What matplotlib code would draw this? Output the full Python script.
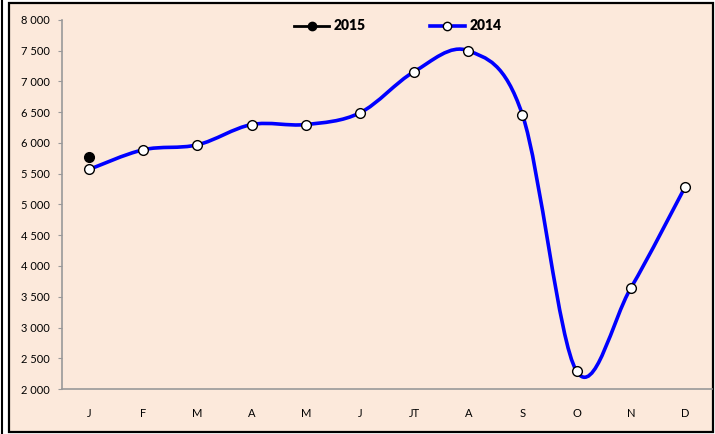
import matplotlib.pyplot as plt
import numpy as np
from matplotlib.lines import Line2D
from matplotlib.patches import PathPatch, Rectangle
from matplotlib.path import Path

months = ['J', 'F', 'M', 'A', 'M', 'J', 'JT', 'A', 'S', 'O', 'N', 'D']
values_2014 = [5570, 5890, 5970, 6300, 6300, 6490, 7160, 7500, 6460, 2290, 3640, 5280]
values_2015 = [5770]
y_ticks = [2000, 2500, 3000, 3500, 4000, 4500, 5000, 5500, 6000, 6500, 7000, 7500, 8000]

BG = '#fce9db'
BLUE = '#0000ff'
plt.rcParams['font.family'] = ['Lato', 'DejaVu Sans']


def smooth_path(xs, ys):
    # Excel-style smoothed line: cubic Bezier through each point
    pts = np.column_stack([xs, ys]).astype(float)
    verts = [pts[0]]
    codes = [Path.MOVETO]
    n = len(pts)
    for i in range(n - 1):
        p0 = pts[i - 1] if i > 0 else pts[i]
        p1, p2 = pts[i], pts[i + 1]
        p3 = pts[i + 2] if i + 2 < n else pts[i + 1]
        c1 = p1 + (p2 - p0) / 6
        c2 = p2 - (p3 - p1) / 6
        verts += [c1, c2, p2]
        codes += [Path.CURVE4] * 3
    return Path(verts, codes)


fig = plt.figure(figsize=(7.15, 4.34), dpi=100)
fig.patches.append(Rectangle((9 / 715, 2 / 434), 704 / 715, 429 / 434, transform=fig.transFigure,
                             facecolor=BG, edgecolor='black', linewidth=1.6, zorder=-5))
fig.add_artist(Line2D([1.5 / 715, 1.5 / 715], [0, 1], color='black', linewidth=1.5))

ax = fig.add_axes([62 / 715, 1 - 389 / 434, 650 / 715, 369 / 434])
ax.set_facecolor('none')
x = np.arange(len(months))

ax.add_patch(PathPatch(smooth_path(x, values_2014), facecolor='none', edgecolor=BLUE,
                       linewidth=2.6, zorder=2))
ax.plot(x, values_2014, linestyle='none', marker='o', markersize=7, markerfacecolor='white',
        markeredgecolor='black', markeredgewidth=1, zorder=3)
ax.plot(x[:len(values_2015)], values_2015, linestyle='none', marker='o', markersize=7,
        color='black', zorder=3)

ax.set_xlim(-0.5, len(months) - 0.5)
ax.set_ylim(2000, 8000)
ax.set_xticks(x)
ax.set_xticklabels(months)
ax.set_yticks(y_ticks)
ax.set_yticklabels([f'{v:,}'.replace(',', ' ') for v in y_ticks])
ax.tick_params(axis='x', length=0, pad=14, labelsize=8)
ax.tick_params(axis='y', length=3, color='#999999', pad=6, labelsize=8)
for side in ['top', 'right']:
    ax.spines[side].set_visible(False)
for side in ['left', 'bottom']:
    ax.spines[side].set_color('#999999')
    ax.spines[side].set_linewidth(1.2)

handles = [
    Line2D([], [], color='black', linewidth=2, marker='o', markersize=6),
    Line2D([], [], color=BLUE, linewidth=2.6, marker='o', markersize=6,
           markerfacecolor='white', markeredgecolor='black'),
]
leg = ax.legend(handles, ['2015', '2014'], loc='center', bbox_to_anchor=(0.517, 1 - 6 / 369),
                ncol=2, frameon=False, handlelength=2.5, handletextpad=0.35, columnspacing=4.6,
                prop={'weight': 'heavy', 'size': 10})

fig.savefig('out.png')
